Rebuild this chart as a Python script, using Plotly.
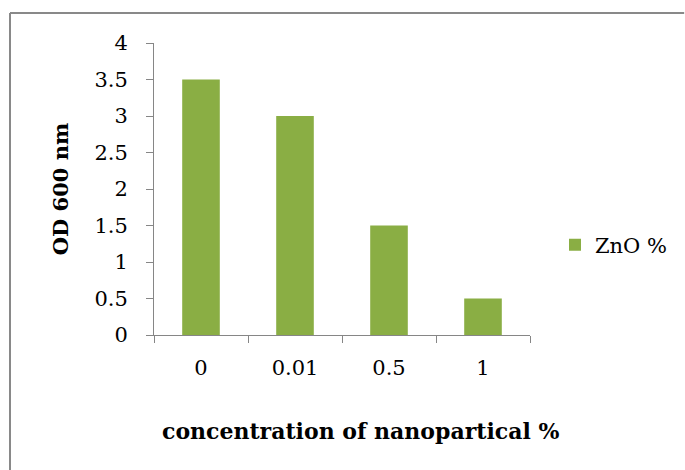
import plotly.graph_objects as go

categories = ["0", "0.01", "0.5", "1"]
od_values = [3.5, 3.0, 1.5, 0.5]
series_name = "ZnO %"
x_title = "concentration of nanopartical %"
y_title = "OD 600 nm"
y_ticks = [0, 0.5, 1, 1.5, 2, 2.5, 3, 3.5, 4]
y_tick_labels = ["0", "0.5", "1", "1.5", "2", "2.5", "3", "3.5", "4"]

FONT = "DejaVu Serif"
AXIS_COLOR = "#868686"

fig = go.Figure()
fig.add_trace(go.Bar(
    x=categories,
    y=od_values,
    name=series_name,
    marker=dict(color="#8AAE44", line=dict(width=0)),
    showlegend=True,
))

fig.update_layout(
    width=685,
    height=470,
    margin=dict(l=154, r=155, t=43, b=135),
    paper_bgcolor="white",
    plot_bgcolor="white",
    bargap=0.6,
    font=dict(family=FONT, size=21, color="black"),
    showlegend=True,
    legend=dict(
        x=(555 - 154) / 376, y=(335 - 245) / 292, xanchor="left", yanchor="middle",
        font=dict(family=FONT, size=21, color="black"),
        bgcolor="rgba(0,0,0,0)",
        itemwidth=30,
    ),
    xaxis=dict(
        type="category",
        showline=True, linecolor=AXIS_COLOR, linewidth=1,
        ticks="outside", ticklen=7, tickcolor=AXIS_COLOR,
        tickson="boundaries",
        ticklabelstandoff=14,
        showgrid=False, zeroline=False,
        tickfont=dict(family=FONT, size=21),
    ),
    yaxis=dict(
        range=[0, 4],
        tickvals=y_ticks, ticktext=y_tick_labels,
        showline=True, linecolor=AXIS_COLOR, linewidth=1,
        ticks="outside", ticklen=7, tickcolor=AXIS_COLOR,
        ticklabelstandoff=14,
        showgrid=False, zeroline=False,
        tickfont=dict(family=FONT, size=21),
        title=dict(text="<b>" + y_title + "</b>",
                   font=dict(family=FONT, size=21), standoff=20),
    ),
    annotations=[
        dict(text="<b>" + x_title + "</b>", xref="paper", yref="paper",
             x=(360 - 154) / 376, y=(335 - 431) / 292,
             xanchor="center", yanchor="middle", showarrow=False,
             font=dict(family=FONT, size=22, color="black")),
    ],
    shapes=[
        dict(type="line", xref="paper", yref="paper",
             x0=-144/376, x1=1.41, y0=(335-13)/292, y1=(335-13)/292,
             line=dict(color="#898989", width=2)),
        dict(type="line", xref="paper", yref="paper",
             x0=-144/376, x1=-144/376, y0=(335-13)/292, y1=-135/292,
             line=dict(color="#898989", width=2)),
    ],
)

fig.write_html("out.html")
